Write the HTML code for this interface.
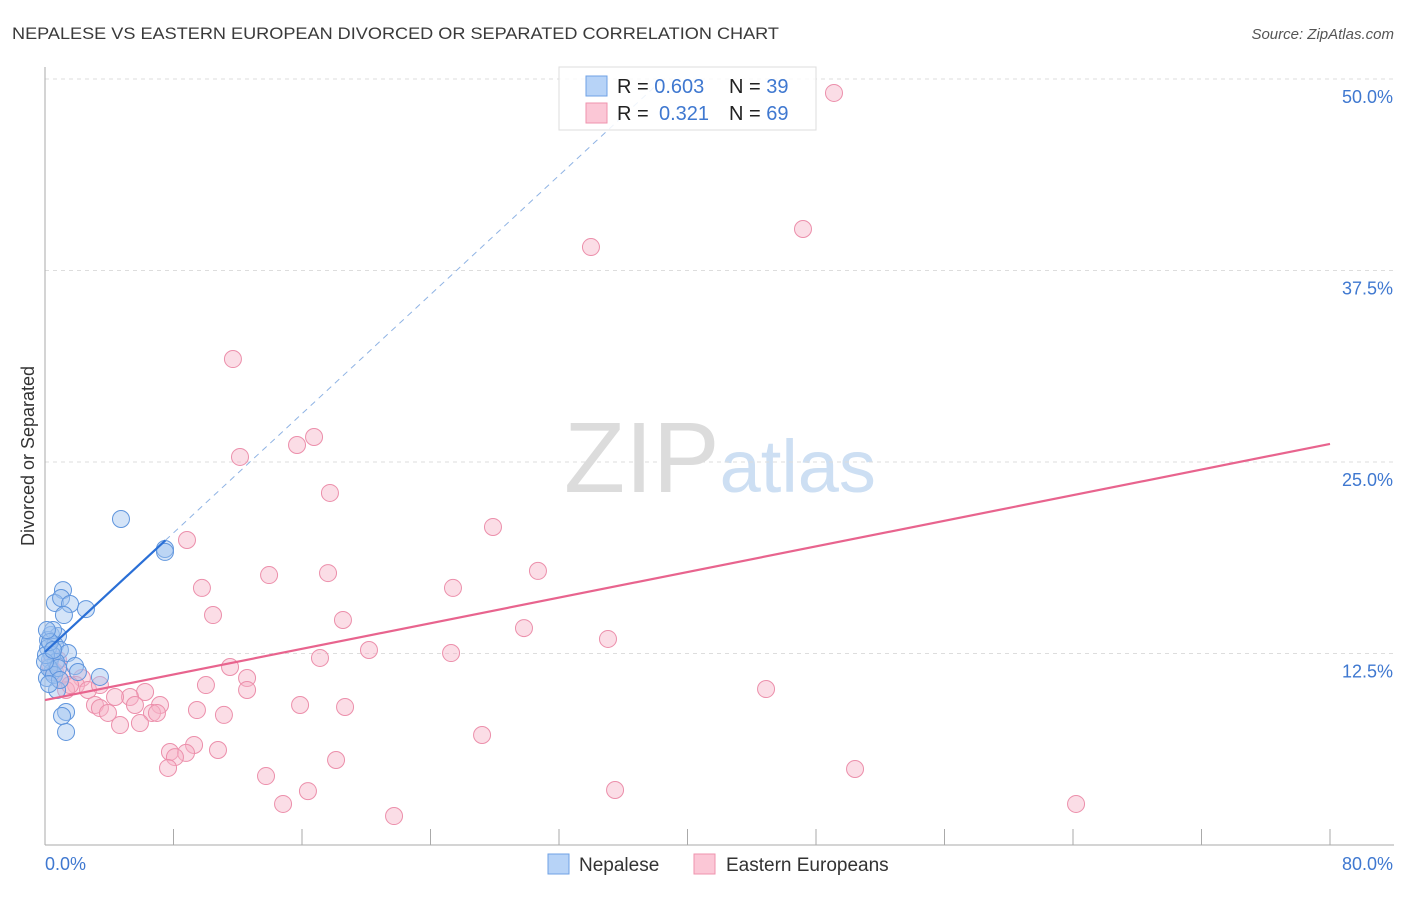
<!DOCTYPE html>
<html><head><meta charset="utf-8"><style>
body{margin:0;background:#fff;font-family:"Liberation Sans",sans-serif;}
svg text{font-family:"Liberation Sans",sans-serif;}
</style></head><body>
<svg id="chart" width="1406" height="892" viewBox="0 0 1406 892" xmlns="http://www.w3.org/2000/svg">
<text x="12" y="39" font-size="17" fill="#3a3a3a" textLength="767" lengthAdjust="spacingAndGlyphs">NEPALESE VS EASTERN EUROPEAN DIVORCED OR SEPARATED CORRELATION CHART</text>
<text x="1394" y="39" font-size="15" fill="#555" text-anchor="end" font-style="italic">Source: ZipAtlas.com</text>
<text x="720" y="492" font-size="100" text-anchor="middle" fill="#dcdcdc" font-family="Liberation Serif"><tspan>ZIP</tspan><tspan fill="#cddff3" font-family="Liberation Sans" font-size="74">atlas</tspan></text>
<g id="grid"></g>
<g id="axes"></g>
<g id="marks"></g>
<g>
<rect x="559" y="67" width="257" height="63" fill="#fff" fill-opacity="0.85" stroke="#ddd"/>
<rect x="586" y="76" width="21" height="20" fill="#b7d3f7" stroke="#6fa1e4"/>
<rect x="586" y="103" width="21" height="20" fill="#fbc7d6" stroke="#ef93ae"/>
<text x="617" y="93" font-size="20" fill="#222">R = <tspan fill="#3f78d0">0.603</tspan><tspan x="729">N = </tspan><tspan fill="#3f78d0">39</tspan></text>
<text x="617" y="120" font-size="20" fill="#222">R = <tspan x="659" fill="#3f78d0">0.321</tspan><tspan x="729">N = </tspan><tspan fill="#3f78d0">69</tspan></text>
</g>
<g>
<rect x="548" y="854" width="21" height="20" fill="#b7d3f7" stroke="#6fa1e4"/>
<text x="579" y="871" font-size="19" fill="#333">Nepalese</text>
<rect x="694" y="854" width="21" height="20" fill="#fbc7d6" stroke="#ef93ae"/>
<text x="726" y="871" font-size="19" fill="#333">Eastern Europeans</text>
</g>
<text transform="translate(34,456) rotate(-90)" font-size="18" fill="#333" text-anchor="middle">Divorced or Separated</text>
</svg>
<script>
const blueX=[4.73,7.47,7.47,1.12,0.62,1.00,1.56,2.55,1.18,0.37,0.81,0.19,0.62,0.93,1.43,0.31,1.87,2.05,0.44,0.12,3.42,0.75,1.31,1.06,1.31,0.50,0.19,0.44,0.68,0.25,0.56,0.06,0.31,0.81,0.0,0.50,0.12,0.93,0.25];
const blueY=[21.28,19.32,19.13,16.64,15.80,16.12,15.73,15.40,15.01,13.71,13.64,13.38,13.05,12.73,12.53,12.08,11.68,11.29,11.29,10.90,10.97,10.12,8.68,8.42,7.38,14.03,12.86,12.40,11.95,11.55,11.10,12.40,13.25,11.55,11.95,12.73,14.03,10.77,10.51];
const pinkX=[49.12,47.19,33.99,11.70,16.75,15.69,12.14,17.74,27.89,8.84,30.69,13.95,17.62,9.77,25.40,10.46,18.55,29.82,35.05,20.17,25.28,17.12,11.52,12.58,44.89,10.02,12.58,2.30,1.93,2.68,3.42,6.23,5.29,4.36,3.11,3.42,3.92,5.60,7.16,6.66,6.97,5.91,4.67,9.46,11.14,15.88,18.68,27.21,9.28,7.78,8.78,8.09,10.77,7.66,18.12,13.76,50.43,16.37,35.49,14.82,64.19,21.73,0.31,0.62,0.93,1.31,1.06,1.56,0.81];
const pinkY=[49.09,40.21,39.03,31.72,26.63,26.11,25.33,22.98,20.76,19.91,17.89,17.62,17.75,16.78,16.78,15.01,14.69,14.16,13.45,12.73,12.53,12.21,11.62,10.90,10.18,10.44,10.12,10.90,10.44,10.12,10.44,9.99,9.66,9.66,9.14,8.94,8.62,9.14,9.14,8.62,8.62,7.96,7.83,8.81,8.49,9.14,9.01,7.18,6.53,6.07,6.01,5.74,6.20,5.03,5.55,4.50,4.96,3.52,3.59,2.68,2.68,1.89,11.75,11.29,10.77,10.12,11.10,10.44,12.08];
const blueTrend=[12.6,0.972];
const pinkTrend=[9.46,0.209];
const yTicks=[12.5,25,37.5,50];
const yTickLabels=["12.5%","25.0%","37.5%","50.0%"];
const xTicks=[0,8,16,24,32,40,48,56,64,72,80];

const NS="http://www.w3.org/2000/svg";
const sx=v=>45+v*(1285/80);
const sy=v=>845-v*15.32;
function mk(tag,attrs,parent){const e=document.createElementNS(NS,tag);for(const k in attrs)e.setAttribute(k,attrs[k]);parent.appendChild(e);return e;}
const grid=document.getElementById('grid'),axes=document.getElementById('axes'),marks=document.getElementById('marks');
yTicks.forEach((t,i)=>{
 const l=mk('line',{x1:45,x2:1394,y1:sy(t),y2:sy(t),stroke:'#ddd','stroke-dasharray':'4,4'},grid);
 
 
 const tx=mk('text',{x:1393,y:sy(t)+24,'font-size':18,fill:'#3f78d0','text-anchor':'end'},axes);
 tx.textContent=yTickLabels[i];
 
 
});
mk('line',{x1:45,x2:45,y1:67,y2:845,stroke:'#aaa'},axes);
mk('line',{x1:45,x2:1394,y1:845,y2:845,stroke:'#aaa'},axes);
xTicks.forEach(t=>{
 const l=mk('line',{x1:sx(t),x2:sx(t),y1:829,y2:845,stroke:'#aaa'},axes);
 
 
});
const xl0=mk('text',{x:45,y:870,'font-size':18,fill:'#3f78d0'},axes);xl0.textContent='0.0%';


const xl1=mk('text',{x:1393,y:870,'font-size':18,fill:'#3f78d0','text-anchor':'end'},axes);xl1.textContent='80.0%';



pinkX.forEach((x,i)=>{
 const c=mk('circle',{cx:sx(x),cy:sy(pinkY[i]),r:8.5,fill:'#f7b3c7','fill-opacity':0.45,stroke:'#ec8fab','stroke-width':1},marks);
 
 
});
blueX.forEach((x,i)=>{
 const c=mk('circle',{cx:sx(x),cy:sy(blueY[i]),r:8.5,fill:'#9fc3f0','fill-opacity':0.45,stroke:'#5f95dd','stroke-width':1},marks);
 
 
});
const bxEnd=(50-blueTrend[0])/blueTrend[1];
const bd=mk('line',{x1:sx(7.5),y1:sy(blueTrend[0]+blueTrend[1]*7.5),x2:sx(bxEnd),y2:sy(50),stroke:'#8fb3e4','stroke-dasharray':'6,5','stroke-width':1},marks);


const bl=mk('line',{x1:sx(0),y1:sy(blueTrend[0]),x2:sx(7.5),y2:sy(blueTrend[0]+blueTrend[1]*7.5),stroke:'#2a6fd6','stroke-width':2.2},marks);


const pl=mk('line',{x1:sx(0),y1:sy(pinkTrend[0]),x2:sx(80),y2:sy(pinkTrend[0]+pinkTrend[1]*80),stroke:'#e8648e','stroke-width':2.2},marks);


</script>
</body></html>
